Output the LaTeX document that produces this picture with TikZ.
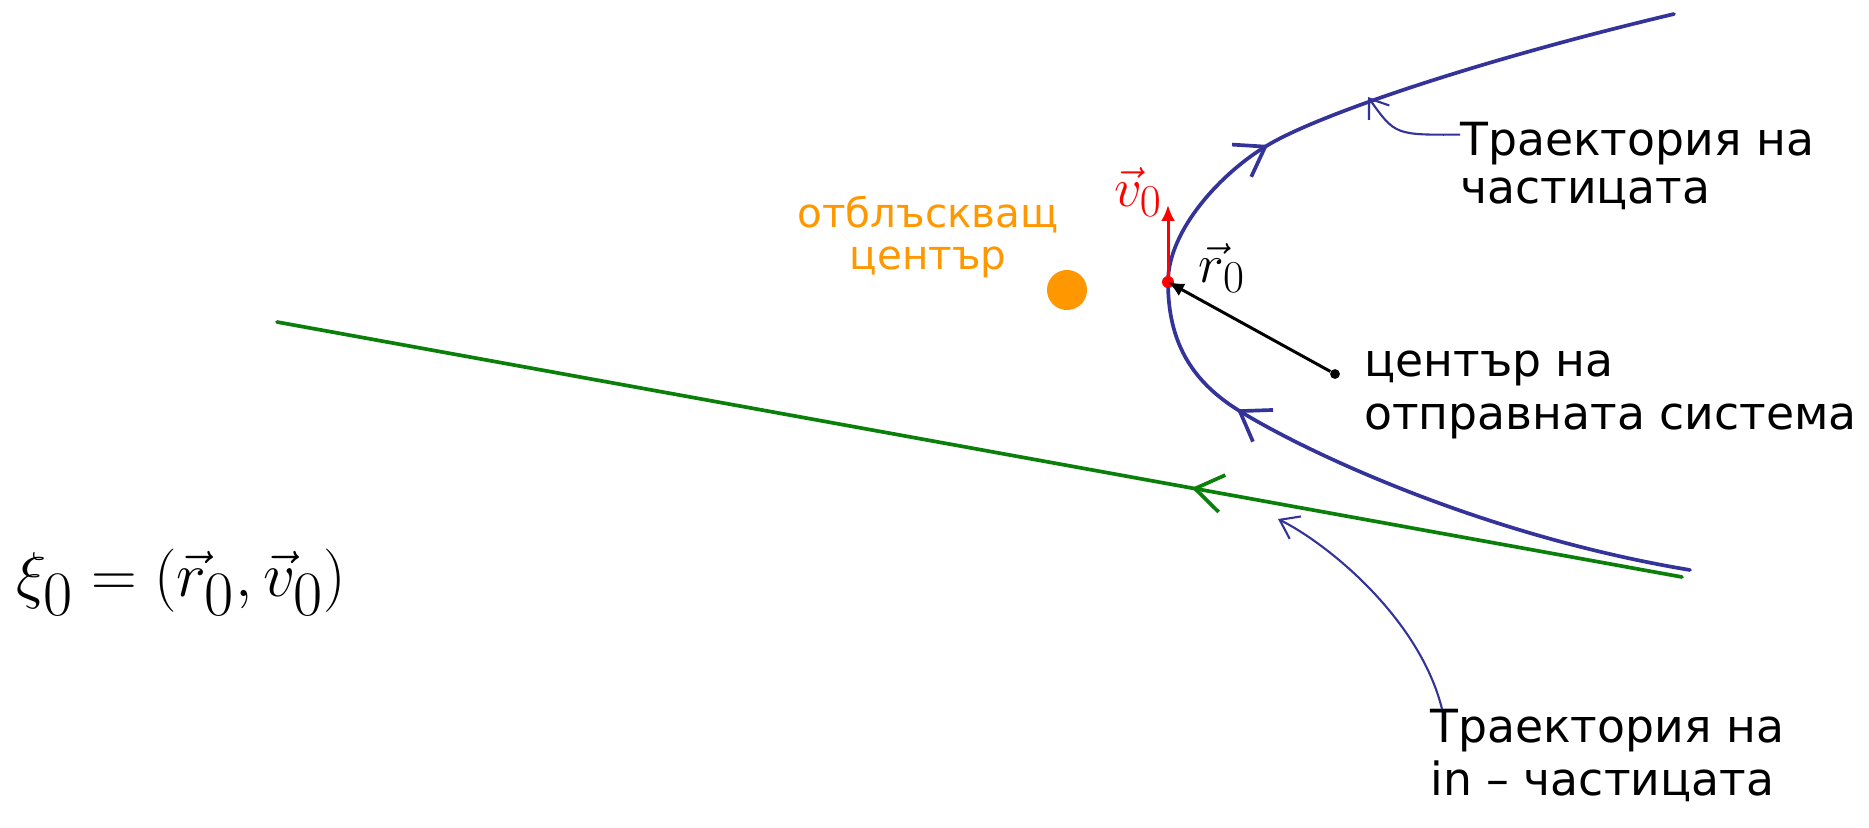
\documentclass[tikz,border=0pt]{standalone}
\usepackage{amsmath}
\usepackage{fontspec}
\setmainfont{DejaVu Sans}
\usepackage{tikz}
\usetikzlibrary{arrows.meta,positioning,decorations.markings}
\definecolor{trajblue}{RGB}{51,51,153}
\definecolor{ingreen}{RGB}{10,128,10}
\definecolor{scatorange}{RGB}{255,152,0}
\tikzset{barb/.tip={Straight Barb[length=0.55cm,width=0.75cm]}}

\begin{document}
\begin{tikzpicture}[x=0.02cm,y=-0.02cm,
    lbl/.style={align=left,inner sep=0pt,anchor=north west,font=\fontsize{26}{30}\selectfont},
    vlabel/.style={inner sep=0pt,font=\fontsize{28}{30}\selectfont},
    traj/.style={line width=2.1pt,line cap=round,line join=round,postaction={decorate}},
    ptr/.style={trajblue,line width=1.2pt,-{Straight Barb[length=0.35cm,width=0.5cm]}},
    dot/.style={circle,inner sep=0pt},
    arr/.style={-{Latex[length=0.32cm,width=0.28cm]}}
]
\useasboundingbox (0,0) rectangle (1869,828);

\draw[traj,ingreen,decoration={markings,mark=at position 0.349 with {\arrow{barb}}}]
  (1682,577) -- (277,322);
\draw[traj,trajblue,decoration={markings,mark=at position 0.39 with {\arrow{barb}},mark=at position 0.655 with {\arrow{barb}}}]
  (1690,570) .. controls (1480,535) and (1302,450) .. (1238,410)
  .. controls (1190,380) and (1168,340) .. (1168,282)
  .. controls (1168,230) and (1222,172) .. (1268,145)
  .. controls (1320,114) and (1480,60) .. (1674,14);

\node[dot,fill=scatorange,minimum size=22.8pt] (scatter) at (1067,290) {};
\node[lbl,anchor=north,align=center,text=scatorange,font=\fontsize{23}{24}\selectfont] (scatlbl) at (928,196) {отблъскващ\\център};

\node[dot,fill,minimum size=5.6pt] (orig) at (1335,374) {};
\node[dot,fill=red,minimum size=6.8pt] (start) at (1168,282) {};
\coordinate (vtip) at (1168,205);
\draw[arr,line width=1.7pt] (orig) -- (start.center);
\draw[arr,red,line width=1.7pt] (start.center) -- (vtip);
\node[vlabel,text=red] (vlbl) at (1138,192) {\scalebox{1.25}{$\vec{v}_0$}};
\node[vlabel] (rlbl) at (1222,268) {\scalebox{1.25}{$\vec{r}_0$}};

\node[lbl] (origlbl) at (1364,351) {център на\\отправната система};
\node[lbl,font=\fontsize{26}{27}\selectfont] (trajlbl) at (1460,122) {Траектория на\\частицата};
\node[lbl] (inlbl) at (1430,709) {Траектория на\\in – частицата};

\coordinate (hitA) at (1368,97);
\coordinate (hitB) at (1278,519);
\draw[ptr] (trajlbl.170) .. controls (1395,135) .. (hitA);
\draw[ptr] ([xshift=0.24cm]inlbl.north west) .. controls (1420,620) and (1330,545) .. (hitB);

\node[anchor=west,font=\fontsize{44}{48}\selectfont] (state) at (10,582) {\scalebox{1.45}{$\xi_0 = (\vec{r}_0 , \vec{v}_0)$}};
\end{tikzpicture}
\end{document}
